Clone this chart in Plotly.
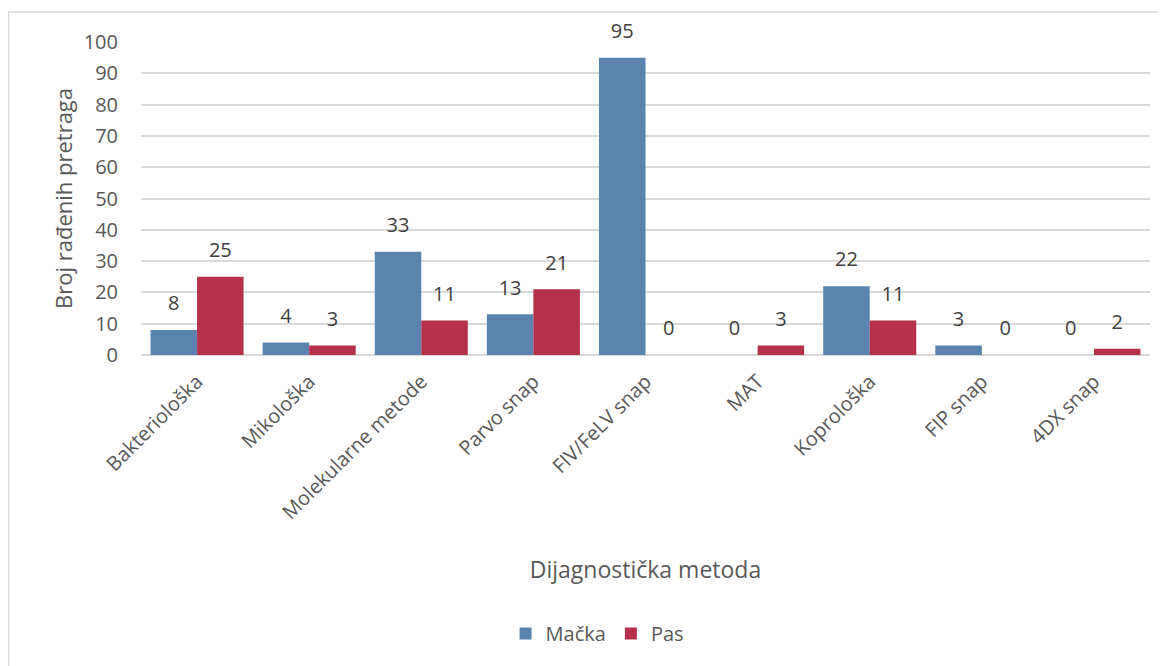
import plotly.graph_objects as go

categories = ["Bakteriološka", "Mikološka", "Molekularne metode", "Parvo snap",
              "FIV/FeLV snap", "MAT", "Koprološka", "FIP snap", "4DX snap"]
macka = [8, 4, 33, 13, 95, 0, 22, 3, 0]
pas = [25, 3, 11, 21, 0, 3, 11, 0, 2]
y_ticks = [0, 10, 20, 30, 40, 50, 60, 70, 80, 90, 100]

FONT = "Open Sans, Noto Sans, sans-serif"
TEXT = "#595959"
LABEL = "#404040"

fig = go.Figure()
fig.add_trace(go.Bar(name="Mačka", x=categories, y=macka, offsetgroup="m",
                     marker=dict(color="#5A84AE", line=dict(width=0))))
fig.add_trace(go.Bar(name="Pas", x=categories, y=pas, offsetgroup="p",
                     marker=dict(color="#B4304B", line=dict(width=0))))

# data labels, grouped like the bars so they sit above each one
for vals, grp in [(macka, "m"), (pas, "p")]:
    fig.add_trace(go.Scatter(x=categories, y=vals, offsetgroup=grp, mode="markers+text",
                             marker=dict(size=22, color="rgba(0,0,0,0)"),
                             text=[str(v) for v in vals], textposition="top center",
                             textfont=dict(size=20, color=LABEL), showlegend=False,
                             cliponaxis=False, hoverinfo="skip"))

# outer chart border
fig.add_shape(type="rect", xref="paper", yref="paper",
              x0=-0.1313, y0=-1.2, x1=1.05, y1=1.0958,
              line=dict(color="#d9d9d9", width=1.5), layer="below")

fig.update_layout(
    width=1166, height=666,
    margin=dict(l=133, r=24, t=34, b=319),
    paper_bgcolor="white", plot_bgcolor="white",
    barmode="group", bargap=0.17, bargroupgap=0,
    scattermode="group", scattergap=0.17,
    font=dict(family=FONT, color=TEXT, size=20),
    showlegend=True,
    legend=dict(orientation="h", x=0.452, xanchor="center", y=-0.89, yanchor="middle",
                font=dict(size=20, color=TEXT), traceorder="normal"),
)
fig.update_xaxes(tickangle=-45, tickfont=dict(size=20, color=TEXT), automargin=False,
                 showgrid=False, showline=False, ticks="", ticklabelstandoff=10,
                 title=dict(text="Dijagnostička metoda", font=dict(size=23, color=TEXT),
                            standoff=38))
fig.update_yaxes(range=[0, 100], tickvals=y_ticks, tickfont=dict(size=20, color=TEXT),
                 automargin=False,
                 showgrid=True, gridcolor="#d9d9d9", gridwidth=1.5,
                 zeroline=True, zerolinecolor="#d9d9d9", zerolinewidth=1.5,
                 showline=False, ticks="", ticklabelstandoff=22,
                 title=dict(text="Broj rađenih pretraga", font=dict(size=22, color=TEXT),
                            standoff=4))

fig.write_html("out.html")
